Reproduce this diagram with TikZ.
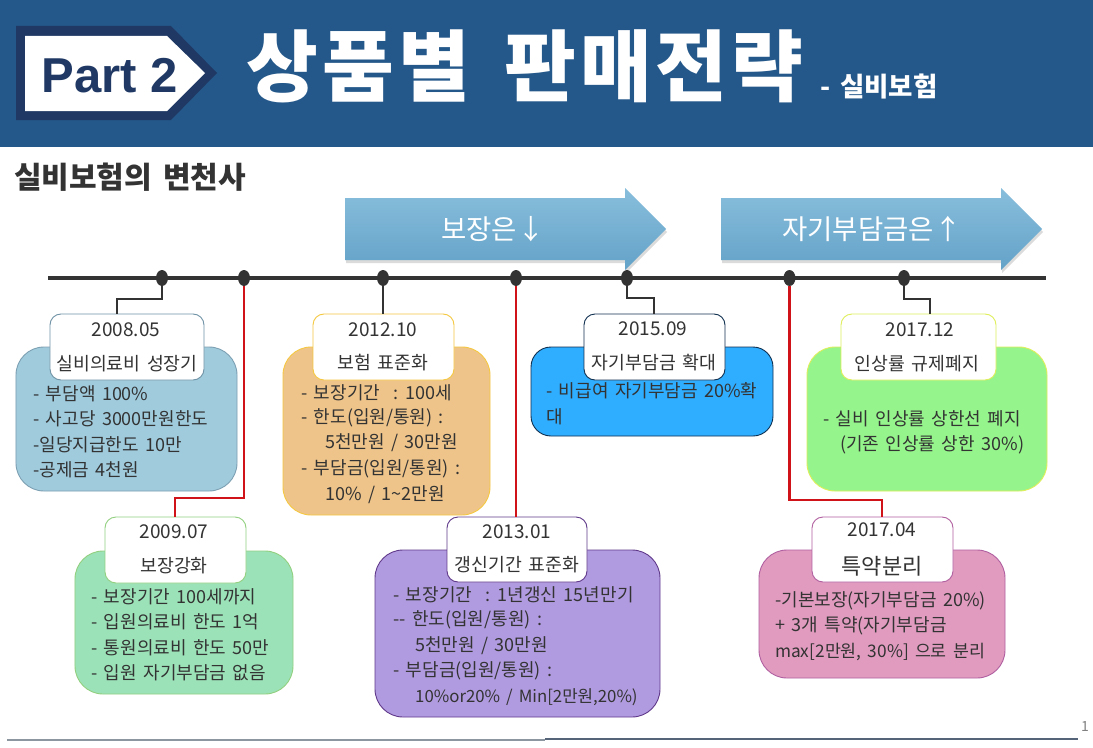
\documentclass[tikz,border=0pt]{standalone}
\usepackage{fontspec}
\setmainfont[WordSpace=1.6]{Noto Sans CJK KR}
\newfontfamily\arialfont{Liberation Sans}
\definecolor{hdr}{HTML}{24588A}
\definecolor{navy}{HTML}{1F3864}
\definecolor{ink}{HTML}{333333}
\definecolor{redline}{HTML}{D01318}
\definecolor{arrtop}{HTML}{88BEDC}
\definecolor{arrbot}{HTML}{64A2C8}
\newcommand{\fsz}[1]{\fontsize{#1bp}{#1bp}\selectfont}
\tikzset{
  bodybox/.style={draw,line width=0.9bp,rounded corners=28bp,inner sep=0pt,outer sep=0pt},
  headbox/.style={draw,line width=0.9bp,fill=white,rounded corners=11bp,inner sep=0pt,outer sep=0pt,minimum height=66bp},
  dateline/.style={text=ink,inner sep=0pt,font=\fsz{19}},
  headline/.style={text=ink,inner sep=0pt,font=\fsz{18.3}},
  bodyline/.style={text=ink,inner sep=0pt,anchor=west,font=\fsz{18}},
  dot/.style={ellipse,fill=ink,inner sep=0pt,minimum width=12bp,minimum height=16bp},
  darkconn/.style={draw=ink,line width=1.7bp},
  redconn/.style={draw=redline,line width=2.2bp},
  arrowlabel/.style={text=white,inner sep=0pt,font=\fsz{27.5}},
}
\usetikzlibrary{shapes.geometric}
\begin{document}
\begin{tikzpicture}[x=1bp,y=-1bp]
\useasboundingbox (0,0) rectangle (1093,748);
\fill[white] (0,0) rectangle (1093,748);
% header
\fill[hdr] (0,0) rectangle (1093,147);
\fill[navy] (16,26) -- (171,26) -- (217,73) -- (171,120) -- (16,120) -- cycle;
\fill[white] (25,36) -- (167,36) -- (205,73) -- (167,111) -- (25,111) -- cycle;
\node[inner sep=0pt,text=navy,font=\arialfont\bfseries\fsz{49}] (part) at (110,76) {Part 2};
\node[inner sep=0pt,text=white,font=\bfseries\fsz{78}\addfontfeature{LetterSpace=5}] (title) at (525,66) {상품별 판매전략};
\node[inner sep=0pt,text=white,font=\bfseries\fsz{26.5}] (sub) at (879,87) {- 실비보험};
\node[inner sep=0pt,text=ink,font=\bfseries\fsz{30},anchor=west] (sect) at (14,177) {실비보험의 변천사};
% banner arrows
\fill[black,opacity=.14] (346,201) -- (626,201) -- (626,191) -- (667,232) -- (626,273) -- (626,263) -- (346,263) -- cycle;
\shade[top color=arrtop,bottom color=arrbot] (345,198) -- (625,198) -- (625,188) -- (666,229) -- (625,270) -- (625,260) -- (345,260) -- cycle;
\fill[black,opacity=.14] (722,201) -- (1002,201) -- (1002,191) -- (1043,232) -- (1002,273) -- (1002,263) -- (722,263) -- cycle;
\shade[top color=arrtop,bottom color=arrbot] (721,198) -- (1001,198) -- (1001,188) -- (1042,229) -- (1001,270) -- (1001,260) -- (721,260) -- cycle;
\node[arrowlabel] (arl) at (493,229) {보장은↓};
\node[arrowlabel] (arr) at (872,229) {자기부담금은↑};
% timeline
\draw[ink,line width=4.5bp] (48,278) -- (1046,278);
\node[dot] (d1) at (162,278) {};
\node[dot] (d2) at (244,278) {};
\node[dot] (d3) at (383,278) {};
\node[dot] (d4) at (516,278) {};
\node[dot] (d5) at (627,278) {};
\node[dot] (d6) at (789.5,278) {};
\node[dot] (d7) at (904,278) {};
% bodies
\node[bodybox,fill={rgb,255:red,159;green,203;blue,221},draw={rgb,255:red,125;green,160;blue,178},minimum width=221bp,minimum height=144bp] (ba) at (126.5,419) {};
\node[bodybox,fill={rgb,255:red,156;green,226;blue,184},draw={rgb,255:red,146;green,208;blue,128},minimum width=218bp,minimum height=143bp] (bb) at (184,622.5) {};
\node[bodybox,fill={rgb,255:red,238;green,196;blue,138},draw={rgb,255:red,245;green,200;blue,66},minimum width=207bp,minimum height=168bp] (bc) at (386.5,431) {};
\node[bodybox,fill={rgb,255:red,177;green,155;blue,224},draw={rgb,255:red,96;green,57;blue,138},minimum width=285bp,minimum height=167bp] (bd) at (517.5,633.5) {};
\node[bodybox,rounded corners=20bp,fill={rgb,255:red,47;green,173;blue,255},draw={rgb,255:red,16;green,48;blue,80},minimum width=242bp,minimum height=89bp] (be) at (652,391.5) {};
\node[bodybox,fill={rgb,255:red,149;green,244;blue,139},draw={rgb,255:red,223;green,238;blue,90},minimum width=240bp,minimum height=144bp] (bf) at (927,419) {};
\node[bodybox,fill={rgb,255:red,224;green,155;blue,191},draw={rgb,255:red,176;green,96;blue,160},minimum width=246bp,minimum height=128bp] (bg) at (882,614) {};
% heads
\node[headbox,draw={rgb,255:red,111;green,147;blue,165},minimum width=154bp] (ha) at (127,347) {};
\node[headbox,draw={rgb,255:red,146;green,208;blue,128},minimum width=141bp] (hb) at (175.5,550) {};
\node[headbox,draw={rgb,255:red,245;green,200;blue,66},minimum width=141bp] (hc) at (383.5,347) {};
\node[headbox,draw={rgb,255:red,96;green,57;blue,138},minimum width=140bp,minimum height=65bp] (hd) at (517,549.5) {};
\node[headbox,draw={rgb,255:red,16;green,48;blue,80},minimum width=141bp] (he) at (654.5,347) {};
\node[headbox,draw={rgb,255:red,223;green,238;blue,90},minimum width=155bp] (hf) at (918.5,347) {};
\node[headbox,draw={rgb,255:red,176;green,96;blue,160},minimum width=141bp,minimum height=65bp] (hg) at (882.5,549.5) {};
% connectors
\coordinate (pa) at (117,314);
\coordinate (pb) at (175,517);
\coordinate (pc) at (383,314);
\coordinate (pd) at (516,517);
\coordinate (pe) at (654,314);
\coordinate (pf) at (930,314);
\coordinate (pg) at (882,517);
\draw[darkconn] (d1) -- (d1 |- 0,299) -| (pa);
\draw[redconn] (d2) -- (d2 |- 0,498) -| (pb);
\draw[darkconn] (d3) -- (pc);
\draw[redconn] (d4) -- (pd);
\draw[darkconn] (d5) -- (d5 |- 0,298) -| (pe);
\draw[redconn] (d6) -- (d6 |- 0,500) -| (pg);
\draw[darkconn] (d7) -- (d7 |- 0,299) -| (pf);
% head text
\node[dateline] (ta1) at (126,330) {2008.05};
\node[headline] (ta2) at (127,364) {실비의료비 성장기};
\node[dateline] (tb1) at (174,532) {2009.07};
\node[headline] (tb2) at (174,566) {보장강화};
\node[dateline] (tc1) at (383,330) {2012.10};
\node[headline] (tc2) at (383,363) {보험 표준화};
\node[dateline] (td1) at (517,532) {2013.01};
\node[headline] (td2) at (517,565) {갱신기간 표준화};
\node[dateline] (te1) at (653,329) {2015.09};
\node[headline] (te2) at (654,363) {자기부담금 확대};
\node[dateline] (tf1) at (920,330) {2017.12};
\node[headline] (tf2) at (917,364) {인상률 규제폐지};
\node[dateline] (tg1) at (882,530) {2017.04};
\node[headline,font=\fsz{22}] (tg2) at (882,566) {특약분리};
% body text
\node[bodyline] (a1) at (33,394) {- 부담액 100\%};
\node[bodyline] (a2) at (33,419) {- 사고당 3000만원한도};
\node[bodyline] (a3) at (33,445) {-일당지급한도 10만};
\node[bodyline] (a4) at (33,470) {-공제금 4천원};
\node[bodyline] (b1) at (91,597) {- 보장기간 100세까지};
\node[bodyline] (b2) at (91,622) {- 입원의료비 한도 1억};
\node[bodyline] (b3) at (91,648) {- 통원의료비 한도 50만};
\node[bodyline] (b4) at (91,673) {- 입원 자기부담금 없음};
\node[bodyline] (c1) at (301,393) {- 보장기간\ \ : 100세};
\node[bodyline] (c2) at (301,418) {- 한도(입원/통원) :};
\node[bodyline] (c3) at (325,443) {5천만원 / 30만원};
\node[bodyline] (c4) at (301,469) {- 부담금(입원/통원) :};
\node[bodyline] (c5) at (325,495) {10\% / 1\textasciitilde 2만원};
\node[bodyline] (d1t) at (393,595) {- 보장기간\ \ : 1년갱신 15년만기};
\node[bodyline] (d2t) at (393,620) {-{}- 한도(입원/통원) :};
\node[bodyline] (d3t) at (415,646) {5천만원 / 30만원};
\node[bodyline] (d4t) at (393,671) {- 부담금(입원/통원) :};
\node[bodyline,font=\fsz{16.8}] (d5t) at (415,697) {10\%or20\% / Min[2만원,20\%)};
\node[bodyline] (e1t) at (546,391) {- 비급여 자기부담금 20\%확};
\node[bodyline] (e2t) at (546,417) {대};
\node[bodyline] (f1t) at (823,419) {- 실비 인상률 상한선 폐지};
\node[bodyline] (f2t) at (840,445) {(기존 인상률 상한 30\%)};
\node[bodyline] (g1t) at (775,601) {-기본보장(자기부담금 20\%)};
\node[bodyline] (g2t) at (775,626) {+ 3개 특약(자기부담금};
\node[bodyline,font=\fsz{17.3}] (g3t) at (775,652) {max[2만원, 30\%] 으로 분리};
% footer
\draw[draw={rgb,255:red,140;green,150;blue,160},line width=2bp] (7,739.5) -- (545,739.5);
\draw[draw={rgb,255:red,85;green,100;blue,120},line width=1.3bp] (545,739) -- (1078,739);
\node[inner sep=0pt,text=gray,font=\fsz{14}] (pn) at (1085,727) {1};
\end{tikzpicture}
\end{document}
